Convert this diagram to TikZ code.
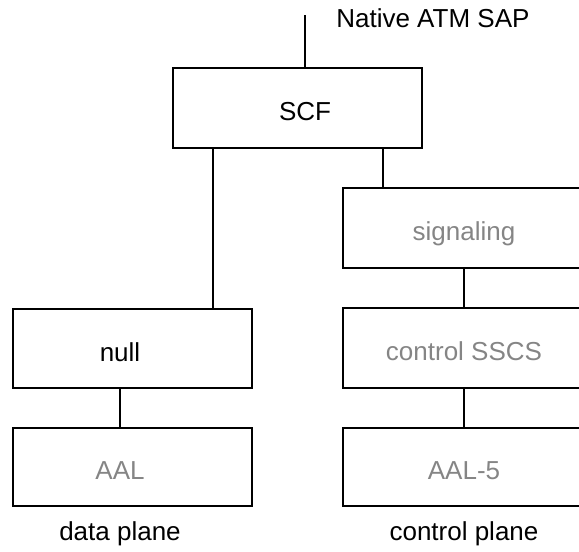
\documentclass[tikz,border=0pt]{standalone}
\usepackage{fontspec}
\setmainfont{Liberation Sans}
\definecolor{dimtext}{gray}{0.52}

\begin{document}
\begin{tikzpicture}[x=1pt, y=-1pt, line width=2pt,
	every node/.style={font=\fontsize{26}{31}\selectfont},
	layer/.style={draw, rectangle, line width=2.5pt, inner sep=0pt, minimum height=80pt},
	caption/.style={inner sep=0pt, text height=25pt, text depth=0pt},
	faded/.style={caption, text=dimtext}]
	\useasboundingbox (0,0) rectangle (579,552);
	\coordinate (sap) at (305,15);
	\coordinate (datacol) at (120,0);
	\coordinate (ctrlcol) at (464,0);
	\coordinate (datatap) at (213,0);
	\coordinate (ctrltap) at (383,0);
	% boxes
	\node[layer, minimum width=249pt] (scf) at (297.5,108) {};
	\node[layer, minimum width=239pt, minimum height=79pt] (null) at (132.5,348.5) {};
	\node[layer, minimum width=239pt, minimum height=78pt] (aal) at (132.5,467) {};
	\node[layer, minimum width=250pt] (sig) at (468,228) {};
	\node[layer, minimum width=250pt] (sscs) at (468,348) {};
	\node[layer, minimum width=250pt, minimum height=78pt] (aal5) at (468,467) {};
	% texts
	\node[caption] (scftext) at (scf.center -| sap) {SCF};
	\node[caption] (nulltext) at (null.center -| datacol) {null};
	\node[faded] (aaltext) at (aal.center -| datacol) {AAL};
	\node[faded] (sigtext) at (sig.center -| ctrlcol) {signaling};
	\node[faded] (sscstext) at (sscs.center -| ctrlcol) {control SSCS};
	\node[faded] (aal5text) at (aal5.center -| ctrlcol) {AAL-5};
	\node[anchor=base west] (saptext) at (332,27) {Native ATM SAP};
	\node[anchor=base] (datatext) at (120,540) {data plane};
	\node[anchor=base] (ctrltext) at (464,540) {control plane};
	% connectors
	\draw (sap) -- (scf.north -| sap);
	\draw (scf.south -| datatap) -- (null.north -| datatap);
	\draw (scf.south -| ctrltap) -- (sig.north -| ctrltap);
	\draw (null.south -| datacol) -- (aal.north -| datacol);
	\draw (sig.south -| ctrlcol) -- (sscs.north -| ctrlcol);
	\draw (sscs.south -| ctrlcol) -- (aal5.north -| ctrlcol);
\end{tikzpicture}
\end{document}
